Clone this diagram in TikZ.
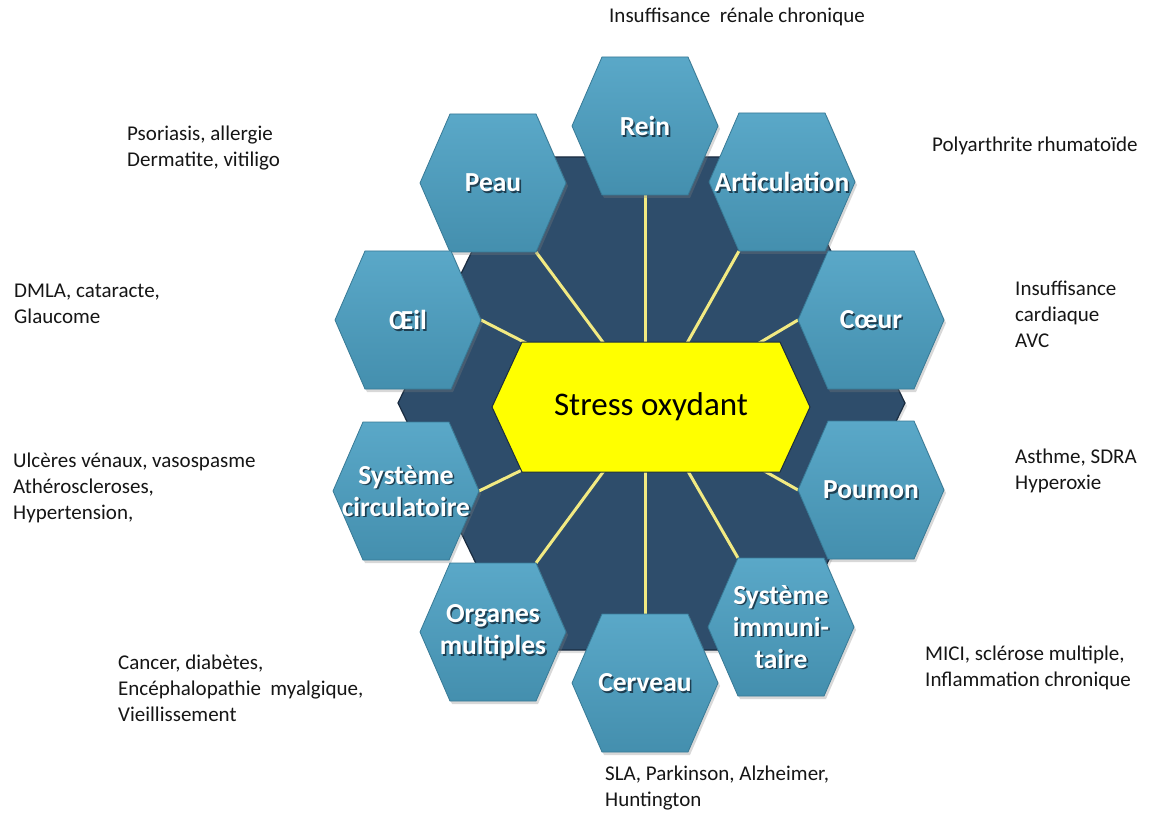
\documentclass[tikz,border=0pt]{standalone}
\usepackage{fontspec}
\setmainfont{Carlito}
\usetikzlibrary{shadows}

\definecolor{navy}{RGB}{46,77,107}
\definecolor{navyedge}{RGB}{26,44,64}
\definecolor{cellTop}{RGB}{90,168,200}
\definecolor{cellBot}{RGB}{68,143,174}
\definecolor{cellEdge}{RGB}{56,122,150}
\definecolor{linkYellow}{RGB}{242,234,130}
\definecolor{coreYellow}{RGB}{255,255,0}
\definecolor{labelInk}{RGB}{22,22,22}
\definecolor{textShade}{RGB}{18,40,56}

\pgfdeclarelayer{base}
\pgfdeclarelayer{links}
\pgfsetlayers{base,links,main}

\tikzset{
  celltext/.style={text=white, font=\bfseries\fontsize{27.5}{32}\selectfont,
    align=center, inner sep=0pt},
  cellshade/.style={celltext, text=textShade, opacity=0.8},
  % one teal hexagon with its corner coordinates and its label
  cell/.pic={
    \path[drop shadow={opacity=0.3, shadow xshift=2pt, shadow yshift=-3pt},
          top color=cellTop, bottom color=cellBot, draw=cellEdge, line width=0.8pt]
      (-73,0) -- (-43,-69) -- (43,-69) -- (73,0) -- (43,69) -- (-43,69) -- cycle;
    \coordinate (-l)  at (-73,0);
    \coordinate (-r)  at (73,0);
    \coordinate (-t)  at (0,-69);
    \coordinate (-b)  at (0,69);
    \coordinate (-tl) at (-43,-69);
    \coordinate (-tr) at (43,-69);
    \coordinate (-bl) at (-43,69);
    \coordinate (-br) at (43,69);
    \node[cellshade] at (1.6,1.6) {#1};
    \node[celltext] (-txt) at (0,0) {#1};
  },
  link/.style={draw=linkYellow, line width=3pt},
  note/.style={anchor=north west, inner sep=0pt, align=left, text=labelInk,
    font=\fontsize{21}{26}\selectfont},
}

\begin{document}
\begin{tikzpicture}[x=1pt, y=-1pt]
  \useasboundingbox (0,0) rectangle (1149,821);

  \begin{pgfonlayer}{base}
    % page background
    \fill[white] (0,0) rectangle (1149,821);
    % dark backing hexagon
    \path[fill=navy, draw=navyedge, line width=1.2pt,
          drop shadow={opacity=0.25, shadow xshift=2pt, shadow yshift=-3pt}]
      (398,403) -- (518,157) -- (785,157) -- (905,403) -- (785,650) -- (518,650) -- cycle;
  \end{pgfonlayer}

  % central yellow hexagon
  \path[fill=coreYellow, draw=navyedge, line width=1pt]
    (492,407) -- (522,342) -- (780,342) -- (810,407) -- (780,472) -- (522,472) -- cycle;
  \node[inner sep=0pt, text=black, font=\fontsize{33}{38}\selectfont] (so) at (651,407) {Stress oxydant};

  % organ hexagons
  \pic (rein)    at (645,126) {cell={Rein}};
  \pic (peau)    at (493,183) {cell={Peau}};
  \pic (artic)   at (782,182) {cell={Articulation}};
  \pic (oeil)    at (408,320) {cell={Œil}};
  \pic (coeur)   at (871,320) {cell={Cœur}};
  \pic (circ)    at (406,491) {cell={Système\\circulatoire}};
  \pic (poumon)  at (871,490) {cell={Poumon}};
  \pic (organes) at (493,632) {cell={Organes\\multiples}};
  \pic (cerveau) at (645,683) {cell={Cerveau}};
  \pic (immun)   at (781,627) {cell={Système\\immuni-\\taire}};

  % yellow spokes from the centre to each organ
  \begin{pgfonlayer}{links}
    \draw[link] (rein-b) -- (rein-b |- so);
    \draw[link] (cerveau-t) -- (cerveau-t |- so);
    \draw[link] (peau-br) -- (so);
    \draw[link] (artic-bl) -- (so);
    \draw[link] (oeil-r) -- (so);
    \draw[link] (coeur-l) -- (so);
    \draw[link] (circ-r) -- (so);
    \draw[link] (poumon-l) -- (so);
    \draw[link] (organes-tr) -- (so);
    \draw[link] (immun-tl) -- (so);
  \end{pgfonlayer}

  % disease lists
  \node[note] (n-rein)    at (609,8)   {Insuffisance~ rénale chronique};
  \node[note] (n-peau)    at (127,126) {Psoriasis, allergie\\Dermatite, vitiligo};
  \node[note] (n-artic)   at (932,137) {Polyarthrite rhumatoïde};
  \node[note] (n-oeil)    at (14,284)  {DMLA, cataracte,\\Glaucome};
  \node[note] (n-coeur)   at (1015,281) {Insuffisance\\cardiaque\\AVC};
  \node[note] (n-circ)    at (13,453)  {Ulcères vénaux, vasospasme\\Athéroscleroses,\\Hypertension,};
  \node[note] (n-poumon)  at (1015,449) {Asthme, SDRA\\Hyperoxie};
  \node[note] (n-immun)   at (925,646) {MICI, sclérose multiple,\\Inflammation chronique};
  \node[note] (n-organes) at (118,655) {Cancer, diabètes,\\Encéphalopathie~ myalgique,\\Vieillissement};
  \node[note] (n-cerveau) at (605,766) {SLA, Parkinson, Alzheimer,\\Huntington};
\end{tikzpicture}
\end{document}
